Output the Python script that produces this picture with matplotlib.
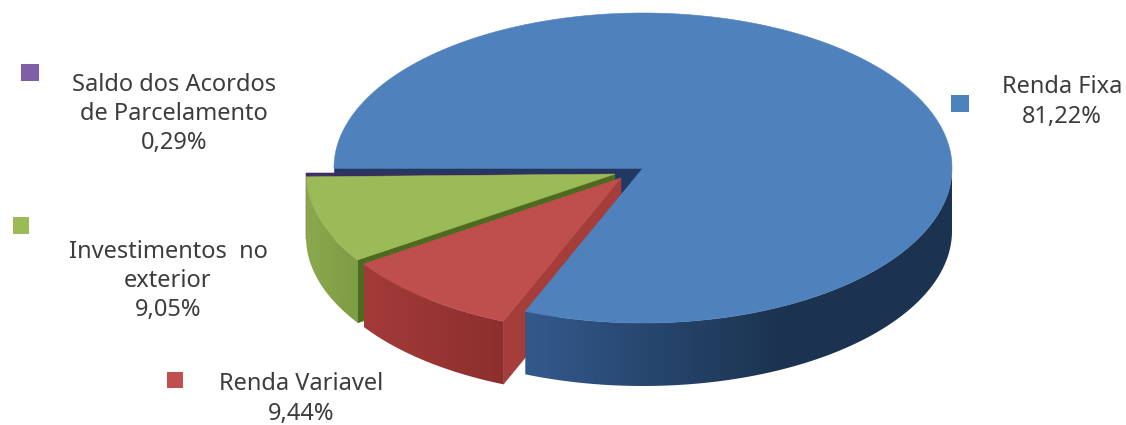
import numpy as np
import matplotlib
matplotlib.use("Agg")
import matplotlib.pyplot as plt
from matplotlib.patches import Polygon, Rectangle
from matplotlib.colors import LinearSegmentedColormap

# ---- data ----
categories = ["Renda Fixa", "Renda Variavel", "Investimentos  no\nexterior", "Saldo dos Acordos\nde Parcelamento"]
shares = [81.22, 9.44, 9.05, 0.29]

# ---- style ----
top_colors = ["#4F81BD", "#BE4F4C", "#9BBB59", "#3A2E63"]
side_start = ["#33598C", "#A33B39", "#8AA84C", "#2A2248"]   # at the left of the wall
side_end = ["#1B3350", "#8C2F2D", "#7F9C46", "#2A2248"]     # at the far end of the wall
cut_colors = ["#1F3864", "#A53D3A", "#4C6B1E", "#2A2248"]
marker_colors = ["#4F81BD", "#C0504D", "#9BBB59", "#7F5FA8"]
offsets = [(0, 0), (-22, 10), (-28, 6), (-28, 5)]
label_pos = [(1062, 102), (301, 399), (168, 281), (174, 114)]
marker_pos = [(951, 95, 18, 17), (167, 372, 16, 16), (13, 217, 16, 17), (21, 64, 18, 17)]

CX, CY, RX, RY, DEPTH = 643, 168, 309, 155, 63
START = 270.0  # degrees clockwise from twelve o'clock


def px(a, off=(0, 0), dz=0.0):
    a = np.radians(a)
    return np.column_stack([CX + off[0] + RX * np.sin(a), CY + off[1] + dz - RY * np.cos(a)])


fig = plt.figure(figsize=(11.26, 4.25), dpi=100)
ax = fig.add_axes([0, 0, 1, 1])
ax.axis("off")

sweeps = np.array(shares) / sum(shares) * 360
starts = START + np.concatenate([[0], np.cumsum(sweeps)[:-1]])
ends = starts + sweeps


def apex(i, dz=0.0):
    return np.array([[CX + offsets[i][0], CY + offsets[i][1] + dz]])


def outer_wall(i, z):
    """visible part of the rim, a horizontal colour gradient clipped to its outline"""
    a0, a1 = starts[i], ends[i]
    for k in (0, 360):
        s, e = max(a0, 90.0 + k), min(a1, 270.0 + k)
        if e <= s:
            continue
        t = np.linspace(s, e, 240)
        pts = np.vstack([px(t, offsets[i]), px(t[::-1], offsets[i], DEPTH)])
        poly = Polygon(pts, closed=True, facecolor="none", edgecolor="none", zorder=z)
        ax.add_patch(poly)
        stops = [(0.0, side_start[i]), (0.6 if i == 0 else 1.0, side_end[i])]
        if i == 0:
            stops.append((1.0, side_end[i]))
        cmap = LinearSegmentedColormap.from_list("wall", stops)
        xs = pts[:, 0]
        ys = pts[:, 1]
        im = ax.imshow(np.linspace(0, 1, 256).reshape(1, -1), cmap=cmap, aspect="auto",
                       extent=(xs.min(), xs.max(), ys.max(), ys.min()), zorder=z)
        im.set_clip_path(poly)


def top(i, z):
    t = np.linspace(starts[i], ends[i], max(int(sweeps[i] * 2), 4))
    pts = np.vstack([apex(i), px(t, offsets[i])])
    ax.add_patch(Polygon(pts, closed=True, facecolor=top_colors[i],
                         edgecolor=top_colors[i], linewidth=0.4, zorder=z))


def cut_wall(i, angle, z):
    a = px(np.array([angle]), offsets[i])
    pts = np.vstack([apex(i), a, a + [0, DEPTH], apex(i, DEPTH)])
    ax.add_patch(Polygon(pts, closed=True, facecolor=cut_colors[i],
                         edgecolor=cut_colors[i], linewidth=0.4, zorder=z))


# back to front
cut_wall(0, starts[0], 1)   # straight wall of the main slice
cut_wall(3, starts[3], 2)
top(3, 3)
cut_wall(2, starts[2], 4)   # dark green wall under the green top's lower edge
outer_wall(2, 5)
cut_wall(1, ends[0], 6)     # red wall towards the blue slice
outer_wall(1, 7)
top(2, 8)
outer_wall(0, 9)
top(0, 10)
top(1, 11)

for i, name in enumerate(categories):
    label = name + "\n" + f"{shares[i]:.2f}%".replace(".", ",")
    x, y = label_pos[i]
    ax.text(x, y, label, ha="center", va="center", multialignment="center",
            family="Noto Sans", fontsize=17, color="#3C3C3C", linespacing=1.3, zorder=12)
    mx, my, mw, mh = marker_pos[i]
    ax.add_patch(Rectangle((mx, my), mw, mh, facecolor=marker_colors[i], edgecolor="none", zorder=12))

ax.set_xlim(0, 1126)
ax.set_ylim(425, 0)
fig.savefig("out.png", dpi=100, facecolor="white")
